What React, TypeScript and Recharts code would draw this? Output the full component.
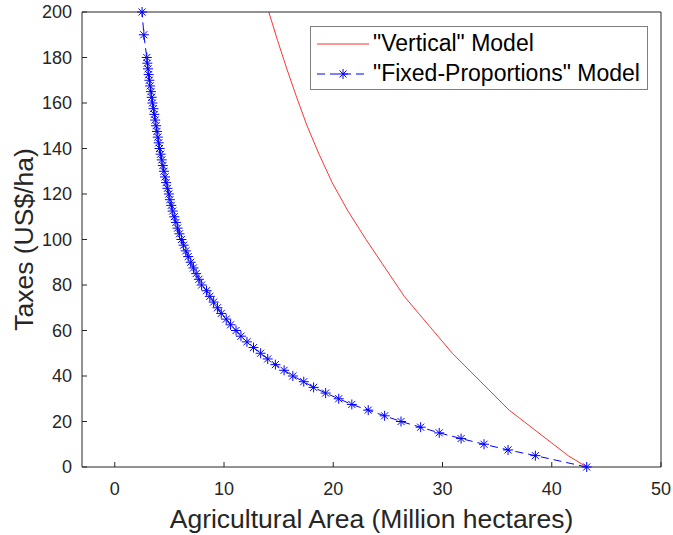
import { LineChart, Line, XAxis, YAxis, Label } from "recharts"

// "Vertical" model (red solid line)
const verticalTax = [0, 5, 25, 50, 75, 100, 112.5, 125, 137.5, 150, 162.5, 175, 187.5, 200]
const verticalArea = [43.2, 41.5, 36.1, 30.9, 26.5, 23.0, 21.35, 19.9, 18.7, 17.6, 16.65, 15.75, 14.9, 14.1]

// "Fixed-Proportions" model (blue dashed line with * markers)
const fixedTax = [
  0, 5, 7.5, 10, 12.5, 15, 17.5, 20, 22.5, 25, 27.5, 30, 32.5, 35, 37.5, 40,
  42.5, 45, 47.5, 50, 52.5, 55, 57.5, 60, 62.5, 65, 67.5, 70, 72.5, 75, 77.5,
  80, 82.5, 85, 87.5, 90, 92.5, 95, 97.5, 100, 102.5, 105, 107.5, 110, 112.5,
  115, 117.5, 120, 122.5, 125, 127.5, 130, 132.5, 135, 137.5, 140, 142.5, 145,
  147.5, 150, 152.5, 155, 157.5, 160, 162.5, 165, 167.5, 170, 172.5, 175,
  177.5, 180, 190, 200,
]
const fixedArea = [
  43.2, 38.5, 36.0, 33.8, 31.7, 29.7, 28.0, 26.2, 24.7, 23.2, 21.7, 20.5, 19.3,
  18.2, 17.3, 16.3, 15.5, 14.7, 14.0, 13.35, 12.7, 12.1, 11.55, 11.1, 10.6,
  10.2, 9.75, 9.4, 9.05, 8.7, 8.4, 7.95, 7.7, 7.45, 7.2, 6.95, 6.72, 6.5, 6.3,
  6.1, 5.92, 5.75, 5.6, 5.45, 5.3, 5.17, 5.04, 4.95, 4.82, 4.7, 4.6, 4.5, 4.4,
  4.3, 4.2, 4.1, 4.02, 3.94, 3.86, 3.78, 3.7, 3.62, 3.54, 3.45, 3.38, 3.31,
  3.24, 3.17, 3.1, 3.04, 2.98, 2.93, 2.66, 2.5,
]

const xTicks = [0, 10, 20, 30, 40, 50]
const yTicks = [0, 20, 40, 60, 80, 100, 120, 140, 160, 180, 200]

const verticalData = verticalTax.map((t, i) => ({ x: verticalArea[i], y: t }))
const fixedData = fixedTax.map((t, i) => ({ x: fixedArea[i], y: t }))

const FONT = "'Liberation Sans', Arial, Helvetica, sans-serif"
const AXIS = "#262626"
const BLUE = "#0000ff"
const RED = "#ff3333"

function Star(props: any) {
  const { cx, cy, index } = props
  if (cx == null || cy == null) return <g key={`s-${index}`} />
  const r = 5
  const d = r * 0.707
  return (
    <g key={`s-${index}`} stroke={BLUE} strokeWidth={1}>
      <line x1={cx - r} y1={cy} x2={cx + r} y2={cy} />
      <line x1={cx} y1={cy - r} x2={cx} y2={cy + r} />
      <line x1={cx - d} y1={cy - d} x2={cx + d} y2={cy + d} />
      <line x1={cx - d} y1={cy + d} x2={cx + d} y2={cy - d} />
    </g>
  )
}

function LegendBox() {
  return (
    <div
      style={{
        position: "absolute",
        left: 310,
        top: 26,
        width: 336,
        height: 62,
        border: "1px solid #7f7f7f",
        background: "white",
        fontFamily: FONT,
        fontSize: 23,
        lineHeight: "26px",
        color: "#000",
      }}
    >
      <svg width={60} height={62} style={{ position: "absolute", left: 0, top: 0 }}>
        <line x1={6} y1={17} x2={58} y2={17} stroke={RED} strokeWidth={1} />
        <line x1={6} y1={47} x2={58} y2={47} stroke={BLUE} strokeWidth={1} strokeDasharray="8 5" />
        <Star cx={32} cy={47} index={99} />
      </svg>
      <div style={{ position: "absolute", left: 62, top: 3, whiteSpace: "nowrap" }}>"Vertical" Model</div>
      <div style={{ position: "absolute", left: 62, top: 33, whiteSpace: "nowrap" }}>"Fixed-Proportions" Model</div>
    </div>
  )
}

export default function App() {
  return (
    <div style={{ position: "absolute", left: 0, top: 0, width: 673, height: 535, background: "white" }}>
      <LineChart
        width={673}
        height={535}
        margin={{ top: 11, right: 11, left: 0, bottom: 0 }}
        style={{ fontFamily: FONT }}
      >
        <XAxis
          xAxisId="bottom"
          type="number"
          dataKey="x"
          domain={[-3, 50]}
          ticks={xTicks}
          allowDataOverflow
          height={68}
          stroke={AXIS}
          tickSize={-5}
          tickMargin={20}
          tick={{ fill: AXIS, fontSize: 18 }}
        >
          <Label
            content={({ viewBox }: any) => (
              <text
                x={viewBox.x + viewBox.width / 2}
                y={519}
                textAnchor="middle"
                dominantBaseline="central"
                fill={AXIS}
                fontSize={26.5}
                fontFamily={FONT}
              >
                Agricultural Area (Million hectares)
              </text>
            )}
          />
        </XAxis>
        <XAxis
          xAxisId="top"
          orientation="top"
          type="number"
          dataKey="x"
          domain={[-3, 50]}
          ticks={xTicks}
          allowDataOverflow
          height={1}
          stroke={AXIS}
          tickSize={-5}
          tick={false}
        />
        <YAxis
          yAxisId="left"
          type="number"
          dataKey="y"
          domain={[0, 200]}
          ticks={yTicks}
          width={82}
          stroke={AXIS}
          tickSize={-5}
          tickMargin={15}
          tick={{ fill: AXIS, fontSize: 18 }}
        >
          <Label
            content={({ viewBox }: any) => {
              const cy = viewBox.y + viewBox.height / 2
              return (
                <text
                  x={24}
                  y={cy}
                  transform={`rotate(-90 24 ${cy})`}
                  textAnchor="middle"
                  dominantBaseline="central"
                  fill={AXIS}
                  fontSize={26.5}
                  fontFamily={FONT}
                >
                  Taxes (US$/ha)
                </text>
              )
            }}
          />
        </YAxis>
        <YAxis
          yAxisId="right"
          orientation="right"
          type="number"
          dataKey="y"
          domain={[0, 200]}
          ticks={yTicks}
          width={1}
          stroke={AXIS}
          tickSize={-5}
          tick={false}
        />
        <Line
          xAxisId="top"
          yAxisId="right"
          data={verticalData}
          dataKey="y"
          stroke={RED}
          strokeWidth={1}
          dot={false}
          activeDot={false}
          isAnimationActive={false}
          name={'"Vertical" Model'}
        />
        <Line
          xAxisId="bottom"
          yAxisId="left"
          data={fixedData}
          dataKey="y"
          stroke={BLUE}
          strokeWidth={1}
          strokeDasharray="8 5"
          dot={(p: any) => <Star {...p} key={`d-${p.index}`} />}
          activeDot={false}
          isAnimationActive={false}
          name={'"Fixed-Proportions" Model'}
        />
      </LineChart>
      <LegendBox />
    </div>
  )
}
